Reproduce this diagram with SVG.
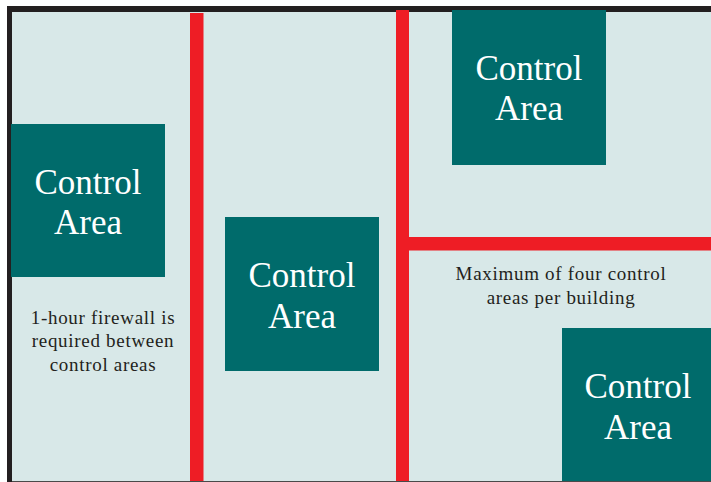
<svg xmlns="http://www.w3.org/2000/svg" width="711" height="482" viewBox="0 0 711 482">
<style>
.box{fill:#006B6B}
.wall{fill:#EE1D25}
.big{font-family:"Liberation Serif","Times New Roman",serif;font-size:35px;fill:#FFFFFF;text-anchor:middle}
.note{font-family:"Liberation Serif","Times New Roman",serif;font-size:19px;fill:#231F20;text-anchor:middle;letter-spacing:0.7px}
</style>
<rect x="0" y="0" width="711" height="482" fill="#FFFFFF"/>
<rect x="7" y="6" width="704" height="476" fill="#231F20"/>
<rect x="12" y="12" width="699" height="469" fill="#D8E8E8"/>
<rect x="12" y="481" width="699" height="1" fill="#4A4A4A"/>
<g id="walls">
<rect class="wall" x="190" y="13" width="13.5" height="468"/>
<rect class="wall" x="396" y="10" width="13" height="471"/>
<rect class="wall" x="409" y="237" width="302" height="13.5"/>
</g>
<g id="area1">
<rect class="box" x="11" y="124" width="154" height="153"/>
<text class="big" x="88" y="194">Control</text>
<text class="big" x="88" y="234">Area</text>
</g>
<g id="area2">
<rect class="box" x="225" y="217" width="154" height="154"/>
<text class="big" x="302" y="287">Control</text>
<text class="big" x="302" y="328">Area</text>
</g>
<g id="area3">
<rect class="box" x="452" y="10" width="154" height="155"/>
<text class="big" x="529" y="80">Control</text>
<text class="big" x="529" y="120">Area</text>
</g>
<g id="area4">
<rect class="box" x="562" y="328" width="149" height="153"/>
<text class="big" x="638" y="398">Control</text>
<text class="big" x="638" y="439">Area</text>
</g>
<g id="note1">
<text class="note" x="103" y="324">1-hour firewall is</text>
<text class="note" x="103" y="347">required between</text>
<text class="note" x="103" y="371">control areas</text>
</g>
<g id="note2">
<text class="note" x="561" y="280">Maximum of four control</text>
<text class="note" x="561" y="304">areas per building</text>
</g>
</svg>
